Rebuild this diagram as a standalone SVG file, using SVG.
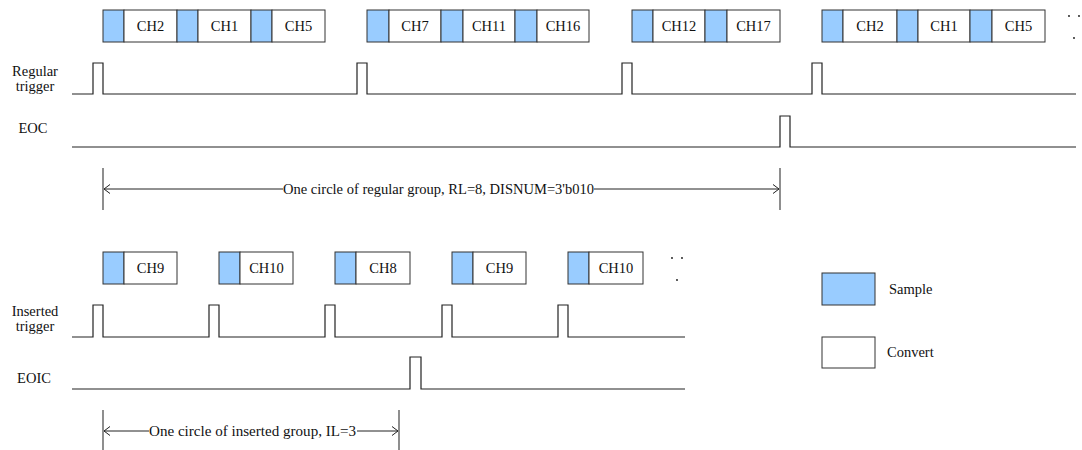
<svg xmlns="http://www.w3.org/2000/svg" width="1082" height="450" viewBox="0 0 1082 450">
<defs>
<style>
.s{fill:#99CCFF;stroke:#333;stroke-width:1}
.c{fill:#fff;stroke:#333;stroke-width:1}
.t{font-family:"Liberation Serif","Times New Roman",serif;font-size:14.5px;fill:#111}
.m{text-anchor:middle}
.w{fill:none;stroke:#222;stroke-width:1.2}
.d{fill:none;stroke:#222;stroke-width:1}
.k{stroke:#444;stroke-width:1.2}
.dot{fill:#111}
</style>
<marker id="arr" viewBox="-10 -6 12 12" markerWidth="12" markerHeight="12" refX="0" refY="0" orient="auto" markerUnits="userSpaceOnUse">
<path d="M-6,-4.5 L0,0 L-6,4.5" fill="none" stroke="#222" stroke-width="1"/>
</marker>
</defs>
<rect width="1082" height="450" fill="#fff"/>

<g id="regular-seq">
<g id="rg1">
<rect class="s" x="103" y="10" width="21" height="32"/><rect class="c" x="124" y="10" width="53" height="32"/>
<rect class="s" x="177" y="10" width="21" height="32"/><rect class="c" x="198" y="10" width="53" height="32"/>
<rect class="s" x="251" y="10" width="21" height="32"/><rect class="c" x="272" y="10" width="53" height="32"/>
<text class="t m" x="150.5" y="31">CH2</text><text class="t m" x="224.5" y="31">CH1</text><text class="t m" x="298.5" y="31">CH5</text>
</g>
<g id="rg2">
<rect class="s" x="367" y="10" width="22" height="32"/><rect class="c" x="389" y="10" width="52" height="32"/>
<rect class="s" x="441" y="10" width="22" height="32"/><rect class="c" x="463" y="10" width="52" height="32"/>
<rect class="s" x="515" y="10" width="22" height="32"/><rect class="c" x="537" y="10" width="52" height="32"/>
<text class="t m" x="415" y="31">CH7</text><text class="t m" x="489" y="31">CH11</text><text class="t m" x="563" y="31">CH16</text>
</g>
<g id="rg3">
<rect class="s" x="632" y="10" width="21" height="32"/><rect class="c" x="653" y="10" width="52" height="32"/>
<rect class="s" x="705" y="10" width="22" height="32"/><rect class="c" x="727" y="10" width="53" height="32"/>
<text class="t m" x="679" y="31">CH12</text><text class="t m" x="753.5" y="31">CH17</text>
</g>
<g id="rg4">
<rect class="s" x="822" y="10" width="21" height="32"/><rect class="c" x="843" y="10" width="54" height="32"/>
<rect class="s" x="897" y="10" width="21" height="32"/><rect class="c" x="918" y="10" width="52" height="32"/>
<rect class="s" x="970" y="10" width="22" height="32"/><rect class="c" x="992" y="10" width="53" height="32"/>
<text class="t m" x="870" y="31">CH2</text><text class="t m" x="944" y="31">CH1</text><text class="t m" x="1018.5" y="31">CH5</text>
</g>
<g id="rdots">
<circle class="dot" cx="1069" cy="16" r="0.9"/><circle class="dot" cx="1079" cy="16" r="0.9"/><circle class="dot" cx="1074" cy="38" r="0.9"/>
</g>
</g>

<g id="regular-trigger">
<text class="t m" x="35" y="76">Regular</text>
<text class="t m" x="35" y="91">trigger</text>
<path class="w" d="M72,94 H93 V63 H103 V94 H357 V63 H367 V94 H622 V63 H632 V94 H812 V63 H822 V94 H1076"/>
</g>

<g id="eoc">
<text class="t m" x="33" y="133">EOC</text>
<path class="w" d="M72,147 H780 V116 H790 V147 H1076"/>
</g>

<g id="inserted-seq">
<g id="ib1"><rect class="s" x="103" y="252" width="21" height="32"/><rect class="c" x="124" y="252" width="53" height="32"/><text class="t m" x="150.5" y="273">CH9</text></g>
<g id="ib2"><rect class="s" x="219" y="252" width="21" height="32"/><rect class="c" x="240" y="252" width="53" height="32"/><text class="t m" x="266.5" y="273">CH10</text></g>
<g id="ib3"><rect class="s" x="335" y="252" width="21" height="32"/><rect class="c" x="356" y="252" width="54" height="32"/><text class="t m" x="383" y="273">CH8</text></g>
<g id="ib4"><rect class="s" x="452" y="252" width="21" height="32"/><rect class="c" x="473" y="252" width="53" height="32"/><text class="t m" x="499.5" y="273">CH9</text></g>
<g id="ib5"><rect class="s" x="568" y="252" width="21" height="32"/><rect class="c" x="589" y="252" width="54" height="32"/><text class="t m" x="616" y="273">CH10</text></g>
<g id="idots">
<circle class="dot" cx="672" cy="258" r="0.9"/><circle class="dot" cx="682" cy="258" r="0.9"/><circle class="dot" cx="677" cy="280" r="0.9"/>
</g>
</g>

<g id="inserted-trigger">
<text class="t m" x="35" y="316">Inserted</text>
<text class="t m" x="35" y="331">trigger</text>
<path class="w" d="M72,337 H93 V305 H103 V337 H209 V305 H219 V337 H325 V305 H335 V337 H442 V305 H452 V337 H558 V305 H568 V337 H685"/>
</g>

<g id="eoic">
<text class="t m" x="34" y="383">EOIC</text>
<path class="w" d="M72,389 H410 V357 H421 V389 H685"/>
</g>

<g id="legend">
<g id="leg-sample"><rect class="s" x="822" y="273" width="53" height="32"/><text class="t" x="889" y="294">Sample</text></g>
<g id="leg-convert"><rect class="c" x="822" y="337" width="53" height="31"/><text class="t" x="887" y="357">Convert</text></g>
</g>

<g id="connectors">
<line class="k" x1="103" y1="168" x2="103" y2="210"/>
<line class="k" x1="780" y1="168" x2="780" y2="210"/>
<line class="d" x1="283" y1="189" x2="104" y2="189" marker-end="url(#arr)"/>
<line class="d" x1="594" y1="189" x2="779" y2="189" marker-end="url(#arr)"/>
<text class="t" x="283" y="194" textLength="311" lengthAdjust="spacingAndGlyphs">One circle of regular group, RL=8, DISNUM=3'b010</text>
<line class="k" x1="103" y1="410" x2="103" y2="450"/>
<line class="k" x1="399" y1="410" x2="399" y2="450"/>
<line class="d" x1="149" y1="431" x2="104" y2="431" marker-end="url(#arr)"/>
<line class="d" x1="357" y1="431" x2="398" y2="431" marker-end="url(#arr)"/>
<text class="t" x="149" y="436" textLength="207" lengthAdjust="spacingAndGlyphs">One circle of inserted group, IL=3</text>
</g>
</svg>
